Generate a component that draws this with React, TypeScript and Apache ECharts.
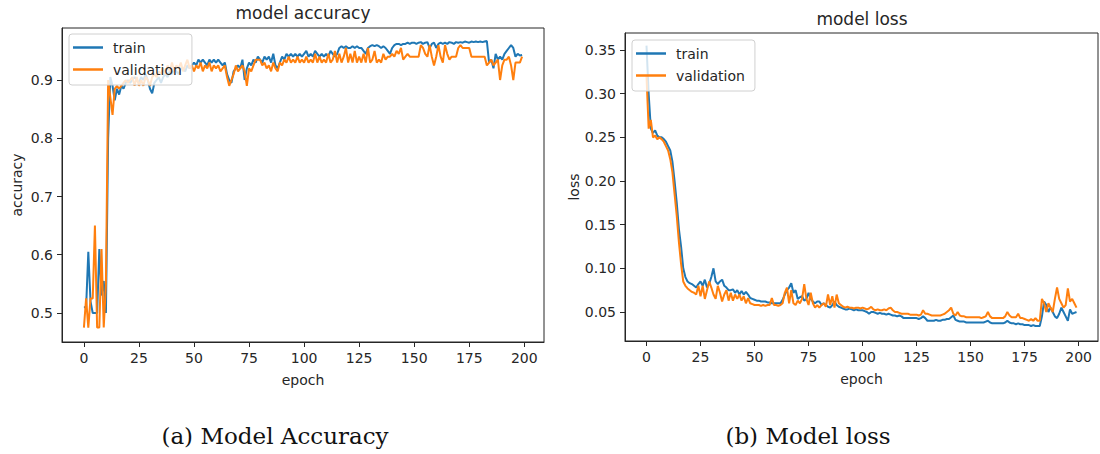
import React, { useEffect, useRef } from "react";
import * as echarts from "echarts";

const accTrain = [
  0.51, 0.51, 0.605, 0.52, 0.50, 0.50, 0.50, 0.61, 0.53, 0.555,
  0.50, 0.80, 0.905, 0.89, 0.865, 0.885, 0.875, 0.89, 0.885, 0.895,
  0.90, 0.895, 0.90, 0.905, 0.90, 0.895, 0.905, 0.90, 0.91, 0.90,
  0.885, 0.877, 0.895, 0.90, 0.905, 0.895, 0.905, 0.91, 0.905, 0.915,
  0.91, 0.92, 0.915, 0.91, 0.92, 0.92, 0.915, 0.925, 0.92, 0.925,
  0.93, 0.925, 0.935, 0.93, 0.935, 0.93, 0.925, 0.935, 0.93, 0.935,
  0.93, 0.935, 0.93, 0.925, 0.93, 0.91, 0.90, 0.895, 0.915, 0.92,
  0.925, 0.92, 0.935, 0.90, 0.92, 0.93, 0.925, 0.935, 0.93, 0.94,
  0.935, 0.93, 0.94, 0.935, 0.94, 0.93, 0.945, 0.925, 0.92, 0.93,
  0.94, 0.935, 0.945, 0.94, 0.945, 0.94, 0.945, 0.94, 0.945, 0.94,
  0.945, 0.95, 0.94, 0.945, 0.94, 0.95, 0.945, 0.94, 0.945, 0.94,
  0.945, 0.94, 0.95, 0.945, 0.94, 0.945, 0.955, 0.958, 0.955, 0.958,
  0.955, 0.955, 0.958, 0.955, 0.958, 0.955, 0.955, 0.95, 0.945, 0.955,
  0.958, 0.96, 0.958, 0.96, 0.958, 0.955, 0.958, 0.955, 0.95, 0.945,
  0.955, 0.96, 0.962, 0.962, 0.96, 0.962, 0.962, 0.964, 0.962, 0.964,
  0.964, 0.962, 0.964, 0.965, 0.962, 0.964, 0.965, 0.955, 0.962, 0.964,
  0.955, 0.962, 0.964, 0.962, 0.964, 0.962, 0.965, 0.964, 0.962, 0.965,
  0.964, 0.965, 0.964, 0.966, 0.965, 0.964, 0.966, 0.965, 0.966, 0.965,
  0.966, 0.965, 0.966, 0.967, 0.93, 0.935, 0.92, 0.945, 0.935, 0.94,
  0.935, 0.945, 0.95, 0.955, 0.96, 0.955, 0.94, 0.945, 0.942, 0.943,
];

const accVal = [
  0.475, 0.525, 0.475, 0.525, 0.525, 0.65, 0.475, 0.475, 0.61, 0.475,
  0.55, 0.90, 0.87, 0.84, 0.885, 0.89, 0.885, 0.89, 0.895, 0.90,
  0.895, 0.90, 0.905, 0.89, 0.905, 0.89, 0.90, 0.89, 0.905, 0.90,
  0.89, 0.905, 0.91, 0.905, 0.915, 0.91, 0.92, 0.91, 0.925, 0.915,
  0.93, 0.915, 0.925, 0.92, 0.93, 0.915, 0.925, 0.935, 0.92, 0.925,
  0.915, 0.925, 0.92, 0.93, 0.915, 0.925, 0.92, 0.93, 0.915, 0.925,
  0.92, 0.925, 0.915, 0.92, 0.925, 0.905, 0.89, 0.90, 0.91, 0.925,
  0.915, 0.92, 0.925, 0.915, 0.89, 0.92, 0.915, 0.925, 0.935, 0.935,
  0.935, 0.925, 0.93, 0.92, 0.925, 0.915, 0.93, 0.92, 0.915, 0.93,
  0.925, 0.935, 0.93, 0.94, 0.93, 0.935, 0.93, 0.94, 0.93, 0.935,
  0.93, 0.94, 0.93, 0.935, 0.93, 0.945, 0.93, 0.94, 0.93, 0.935,
  0.93, 0.945, 0.93, 0.935, 0.95, 0.93, 0.945, 0.93, 0.94, 0.955,
  0.93, 0.945, 0.93, 0.95, 0.93, 0.94, 0.93, 0.945, 0.93, 0.955,
  0.93, 0.935, 0.95, 0.93, 0.935, 0.93, 0.945, 0.935, 0.94, 0.94,
  0.945, 0.94, 0.95, 0.945, 0.955, 0.935, 0.94, 0.945, 0.94, 0.94,
  0.94, 0.94, 0.94, 0.96, 0.955, 0.945, 0.94, 0.96, 0.94, 0.925,
  0.94, 0.96, 0.94, 0.93, 0.96, 0.945, 0.935, 0.94, 0.94, 0.94,
  0.955, 0.96, 0.955, 0.955, 0.955, 0.955, 0.94, 0.94, 0.94, 0.94,
  0.94, 0.94, 0.94, 0.925, 0.93, 0.935, 0.925, 0.93, 0.935, 0.90,
  0.925, 0.935, 0.935, 0.94, 0.925, 0.90, 0.93, 0.93, 0.93, 0.94,
];

const lossTrain = [
  0.355, 0.30, 0.26, 0.255, 0.258, 0.252, 0.25, 0.25, 0.248, 0.245,
  0.24, 0.235, 0.222, 0.20, 0.175, 0.145, 0.125, 0.10, 0.09, 0.085,
  0.083, 0.082, 0.08, 0.078, 0.082, 0.085, 0.08, 0.087, 0.078, 0.082,
  0.09, 0.10, 0.085, 0.082, 0.085, 0.087, 0.08, 0.078, 0.075, 0.075,
  0.076, 0.072, 0.075, 0.07, 0.074, 0.07, 0.073, 0.07, 0.066, 0.065,
  0.064, 0.063, 0.063, 0.062, 0.062, 0.062, 0.061, 0.061, 0.06, 0.06,
  0.06, 0.06, 0.06, 0.064, 0.07, 0.075, 0.078, 0.083, 0.072, 0.075,
  0.065, 0.067, 0.068, 0.063, 0.065, 0.072, 0.065, 0.062, 0.06, 0.062,
  0.062, 0.058, 0.06, 0.058, 0.056, 0.055, 0.058, 0.062, 0.058, 0.056,
  0.055, 0.054, 0.053, 0.053, 0.054, 0.053, 0.052, 0.053, 0.052, 0.052,
  0.052, 0.051, 0.05, 0.048, 0.05, 0.05, 0.049, 0.048, 0.049, 0.048,
  0.048, 0.047, 0.048, 0.047, 0.046, 0.046, 0.045, 0.046, 0.045, 0.043,
  0.043, 0.043, 0.043, 0.043, 0.043, 0.043, 0.042, 0.043, 0.045, 0.043,
  0.04, 0.04, 0.04, 0.04, 0.041, 0.04, 0.04, 0.041, 0.041, 0.042,
  0.042, 0.044, 0.046, 0.041, 0.04, 0.039, 0.039, 0.039, 0.038, 0.038,
  0.038, 0.038, 0.038, 0.038, 0.038, 0.038, 0.038, 0.039, 0.04, 0.038,
  0.037, 0.037, 0.037, 0.037, 0.037, 0.037, 0.038, 0.04, 0.038, 0.037,
  0.037, 0.036, 0.037, 0.036, 0.036, 0.035, 0.035, 0.035, 0.034, 0.035,
  0.034, 0.034, 0.034, 0.045, 0.062, 0.058, 0.05, 0.055, 0.05, 0.045,
  0.043, 0.048, 0.055, 0.05, 0.045, 0.04, 0.053, 0.048, 0.049, 0.05,
];

const lossVal = [
  0.32, 0.26, 0.27, 0.25, 0.252, 0.248, 0.25, 0.248, 0.245, 0.24,
  0.235, 0.225, 0.21, 0.185, 0.16, 0.13, 0.105, 0.085, 0.08, 0.077,
  0.075, 0.073, 0.072, 0.07, 0.08, 0.068, 0.08, 0.065, 0.075, 0.085,
  0.078, 0.07, 0.065, 0.08, 0.072, 0.062, 0.07, 0.075, 0.063, 0.072,
  0.063, 0.07, 0.065, 0.07, 0.063, 0.068, 0.06, 0.066, 0.06, 0.059,
  0.058, 0.058, 0.058, 0.057, 0.058, 0.057, 0.058, 0.058, 0.066, 0.058,
  0.058, 0.057, 0.058, 0.06, 0.072, 0.078, 0.06, 0.075, 0.06, 0.058,
  0.063, 0.06, 0.065, 0.082, 0.065, 0.058, 0.072, 0.06, 0.055, 0.058,
  0.055, 0.058, 0.06, 0.056, 0.07, 0.058, 0.068, 0.055, 0.07, 0.06,
  0.058, 0.056, 0.055, 0.056, 0.055, 0.055, 0.054, 0.055, 0.055, 0.054,
  0.055, 0.054, 0.053, 0.054, 0.056, 0.053, 0.052, 0.053, 0.052, 0.052,
  0.053, 0.052, 0.054, 0.055, 0.052, 0.05, 0.05, 0.049, 0.048, 0.048,
  0.048, 0.048, 0.047, 0.047, 0.047, 0.047, 0.046, 0.047, 0.052, 0.048,
  0.048, 0.047, 0.046, 0.046, 0.046, 0.046, 0.046, 0.047, 0.048, 0.05,
  0.052, 0.055, 0.048, 0.046, 0.05, 0.046, 0.045, 0.045, 0.044, 0.044,
  0.044, 0.044, 0.044, 0.044, 0.044, 0.043, 0.044, 0.045, 0.05, 0.045,
  0.043, 0.043, 0.043, 0.043, 0.043, 0.043, 0.045, 0.05, 0.046, 0.044,
  0.044, 0.044, 0.048, 0.043, 0.043, 0.042, 0.041, 0.04, 0.042, 0.04,
  0.043, 0.04, 0.04, 0.065, 0.06, 0.05, 0.06, 0.055, 0.05, 0.065,
  0.078, 0.065, 0.06, 0.055, 0.058, 0.077, 0.062, 0.065, 0.06, 0.055,
];

const xTicks = [0, 25, 50, 75, 100, 125, 150, 175, 200];
const accTicks = [0.5, 0.6, 0.7, 0.8, 0.9];
const lossTicks = [0.05, 0.1, 0.15, 0.2, 0.25, 0.3, 0.35];
const seriesNames = ["train", "validation"];
const titles = ["model accuracy", "model loss"];
const yNames = ["accuracy", "loss"];
const captions = ["(a) Model Accuracy", "(b) Model loss"];

const BLUE = "#1f77b4";
const ORANGE = "#ff7f0e";
const INK = "#262626";
const FONT = "DejaVu Sans";

function pairs(arr: number[]) {
  return arr.map((v, i) => [i, v]);
}

export default function App() {
  const ref = useRef<HTMLDivElement>(null);
  useEffect(() => {
    if (!ref.current) return;
    const chart = echarts.init(ref.current, null, { renderer: "svg" });

    const grids = [
      { left: 62, top: 28, width: 482, height: 314 },
      { left: 625, top: 33, width: 473, height: 308 },
    ];
    const xAxisBase = (gi: number) => ({
      gridIndex: gi,
      type: "value",
      min: -9.95,
      max: 208.95,
      axisLine: { show: true, onZero: false, lineStyle: { color: INK, width: 1 } },
      axisTick: { show: true, length: 5, customValues: xTicks, lineStyle: { color: INK } },
      axisLabel: {
        customValues: xTicks,
        color: INK,
        fontSize: 14,
        fontFamily: FONT,
        margin: 9,
      },
      splitLine: { show: false },
      name: "epoch",
      nameLocation: "middle",
      nameGap: 31,
      nameTextStyle: { color: INK, fontSize: 14, fontFamily: FONT },
    });
    const yAxisBase = (gi: number, min: number, max: number, ticks: number[], dec: number) => ({
      gridIndex: gi,
      type: "value",
      min,
      max,
      axisLine: { show: true, onZero: false, lineStyle: { color: INK, width: 1 } },
      axisTick: { show: true, length: 5, customValues: ticks, lineStyle: { color: INK } },
      axisLabel: {
        customValues: ticks,
        color: INK,
        fontSize: 14,
        fontFamily: FONT,
        margin: 9,
        formatter: (v: number) => v.toFixed(dec),
      },
      splitLine: { show: false },
      name: yNames[gi],
      nameLocation: "middle",
      nameGap: gi === 0 ? 38 : 43,
      nameTextStyle: { color: INK, fontSize: 14, fontFamily: FONT },
    });

    const legendBase = (left: number, top: number) => ({
      data: seriesNames,
      orient: "vertical",
      left,
      top,
      icon: "rect",
      itemWidth: 30,
      itemHeight: 2.5,
      itemGap: 5,
      padding: [5, 10, 7, 4],
      backgroundColor: "rgba(255,255,255,0.8)",
      borderColor: "#d0d0d0",
      borderWidth: 1,
      borderRadius: 3,
      selectedMode: false,
      textStyle: {
        color: INK,
        fontSize: 14,
        fontFamily: FONT,
        lineHeight: 17,
        padding: [0, 0, 0, 5],
      },
    });

    const lineSeries = (name: string, data: number[], color: string, gi: number) => ({
      name,
      type: "line",
      xAxisIndex: gi,
      yAxisIndex: gi,
      data: pairs(data),
      showSymbol: false,
      symbol: "none",
      lineStyle: { color, width: 2 },
      itemStyle: { color },
      z: 2,
    });

    const option = {
      animation: false,
      grid: grids.map((g) => ({ ...g, show: true, borderColor: INK, borderWidth: 1, backgroundColor: "transparent" })),
      xAxis: [xAxisBase(0), xAxisBase(1)],
      yAxis: [
        yAxisBase(0, 0.4502, 0.9893, accTicks, 1),
        yAxisBase(1, 0.0168, 0.3695, lossTicks, 2),
      ],
      legend: [legendBase(69, 34), legendBase(632, 40)],
      series: [
        lineSeries(seriesNames[0], accTrain, BLUE, 0),
        lineSeries(seriesNames[1], accVal, ORANGE, 0),
        lineSeries(seriesNames[0], lossTrain, BLUE, 1),
        lineSeries(seriesNames[1], lossVal, ORANGE, 1),
      ],
      graphic: [
        {
          type: "text",
          x: 303,
          y: 13,
          style: { text: titles[0], fontSize: 17, fontFamily: FONT, fill: INK, align: "center", verticalAlign: "middle" },
        },
        {
          type: "text",
          x: 862,
          y: 19,
          style: { text: titles[1], fontSize: 17, fontFamily: FONT, fill: INK, align: "center", verticalAlign: "middle" },
        },
        {
          type: "text",
          x: 275,
          y: 436,
          style: { text: captions[0], fontSize: 23, fontFamily: "DejaVu Serif", fill: "#111", align: "center", verticalAlign: "middle" },
        },
        {
          type: "text",
          x: 808,
          y: 436,
          style: { text: captions[1], fontSize: 23, fontFamily: "DejaVu Serif", fill: "#111", align: "center", verticalAlign: "middle" },
        },
      ],
    };
    chart.setOption(option as any);
    return () => chart.dispose();
  }, []);
  return (
    <div
      ref={ref}
      style={{ position: "fixed", left: 0, top: 0, width: 1100, height: 454, background: "#fff" }}
    />
  );
}
